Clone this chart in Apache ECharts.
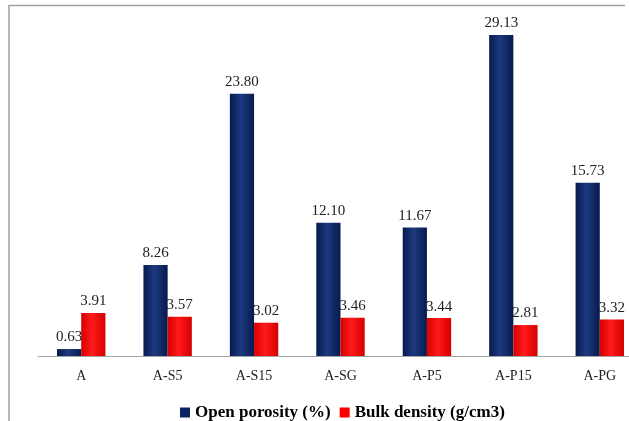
<!DOCTYPE html>
<html>
<head>
<meta charset="utf-8">
<script src="https://cdn.jsdelivr.net/npm/echarts@6/dist/echarts.min.js"></script>
<style>
html,body{margin:0;padding:0;background:#fff;overflow:hidden;}
#chart{width:643px;height:421px;}
</style>
</head>
<body>
<div id="chart"></div>
<script>
// Sample names and measured properties
var categories = ['A', 'A-S5', 'A-S15', 'A-SG', 'A-P5', 'A-P15', 'A-PG'];
var openPorosity = [0.63, 8.26, 23.80, 12.10, 11.67, 29.13, 15.73];
var bulkDensity = [3.91, 3.57, 3.02, 3.46, 3.44, 2.81, 3.32];
var seriesNames = ['Open porosity (%)', 'Bulk density (g/cm3)'];

var chart = echarts.init(document.getElementById('chart'));

function barGradient(edge, mid) {
  return new echarts.graphic.LinearGradient(0, 0, 1, 0, [
    { offset: 0, color: edge },
    { offset: 0.45, color: mid },
    { offset: 1, color: edge }
  ]);
}

var serif = '"Liberation Serif", "Times New Roman", serif';

var labelStyle = {
  show: true,
  position: 'top',
  distance: 4,
  fontFamily: serif,
  fontSize: 15,
  color: '#222',
  formatter: function (p) { return p.value.toFixed(2); }
};

chart.setOption({
  animation: false,
  backgroundColor: '#fff',
  // the plot runs a little past the visible right edge
  grid: { left: 38, right: 0, top: 25.4, bottom: 65, containLabel: false },
  legend: {
    top: 399,
    left: 175,
    itemWidth: 10,
    itemHeight: 10,
    itemGap: 9,
    icon: 'rect',
    textStyle: { fontFamily: serif, fontWeight: 'bold', fontSize: 17, color: '#000' },
    data: [
      { name: seriesNames[0], itemStyle: { color: '#0b2466' } },
      { name: seriesNames[1], itemStyle: { color: '#ff0000' } }
    ]
  },
  xAxis: {
    type: 'category',
    data: categories,
    axisLine: { lineStyle: { color: '#a6a6a6', width: 1 } },
    axisTick: { show: false },
    axisLabel: { fontFamily: serif, fontSize: 14, color: '#222', margin: 13 }
  },
  yAxis: {
    type: 'value',
    min: 0,
    max: 30,
    show: false,
    splitLine: { show: false }
  },
  series: [
    {
      name: seriesNames[0],
      type: 'bar',
      data: openPorosity,
      barGap: '0%',
      barCategoryGap: '44%',
      itemStyle: { color: barGradient('#061a4d', '#1d3a80') },
      label: labelStyle
    },
    {
      name: seriesNames[1],
      type: 'bar',
      data: bulkDensity,
      itemStyle: { color: barGradient('#d40000', '#ff1a1a') },
      label: labelStyle
    }
  ],
  graphic: [
    {
      type: 'polyline',
      shape: { points: [[9, 421], [9, 5.5], [625, 5.5]] },
      style: { stroke: '#a0a0a0', lineWidth: 1.5, fill: null },
      silent: true
    }
  ]
});
</script>
</body>
</html>
